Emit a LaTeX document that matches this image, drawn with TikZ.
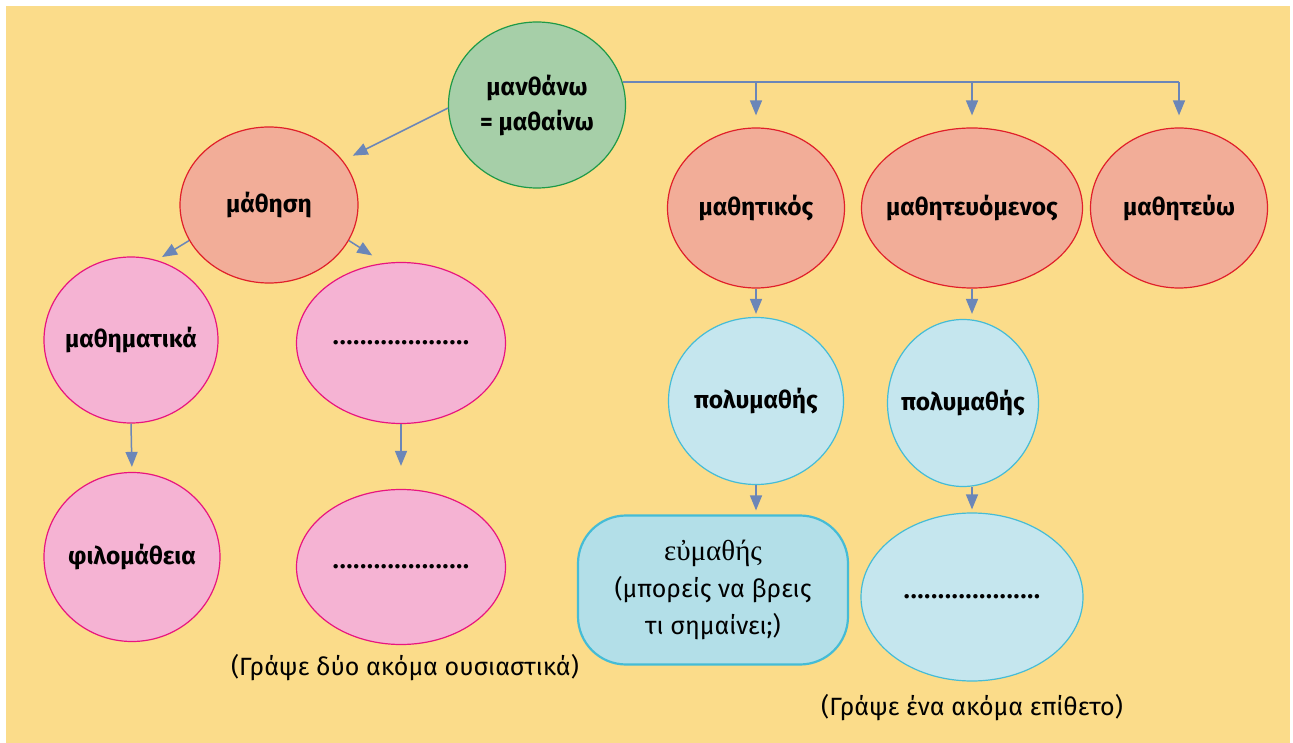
\documentclass[tikz,border=0pt]{standalone}
\usepackage{fontspec}
\setmainfont{Fira Sans}
\newfontfamily\serifgr{Liberation Serif}
\usetikzlibrary{arrows.meta,shapes.geometric}
\definecolor{bgy}{HTML}{FBDC8A}
\definecolor{grnf}{HTML}{A6CFA8}
\definecolor{grnd}{HTML}{1E9A48}
\definecolor{salf}{HTML}{F2AD98}
\definecolor{sald}{HTML}{E0202A}
\definecolor{pnkf}{HTML}{F5B3D3}
\definecolor{pnkd}{HTML}{E8157F}
\definecolor{bluf}{HTML}{C5E6EE}
\definecolor{blud}{HTML}{45BCD6}
\definecolor{boxf}{HTML}{B3DFE8}
\definecolor{arrc}{HTML}{6B86B8}
\tikzset{
  bub/.style={ellipse, draw, line width=1.2pt, inner sep=0pt},
  lbl/.style={font=\bfseries\fontsize{24.5}{35}\selectfont, text=black, inner sep=0pt},
  dots/.style={lbl, font=\bfseries\fontsize{24.5}{35}\selectfont\addfontfeature{LetterSpace=4}},
  grn/.style={bub, fill=grnf, draw=grnd},
  sal/.style={bub, fill=salf, draw=sald},
  pnk/.style={bub, fill=pnkf, draw=pnkd},
  blu/.style={bub, fill=bluf, draw=blud},
  arr/.style={draw=arrc, line width=1.5pt, -{Triangle[length=15pt,width=12pt]}},
  conn/.style={draw=arrc, line width=1.5pt},
  note/.style={font=\fontsize{25}{29}\selectfont, inner sep=0pt}
}
\begin{document}
\begin{tikzpicture}[x=1pt,y=-1pt]
\useasboundingbox (0,0) rectangle (1293,743);
\fill[bgy] (6,6) rectangle (1290,743);

\node[grn, minimum width=177pt, minimum height=166pt,
  label={[lbl,align=center]center:μανθάνω\\= μαθαίνω}] (top) at (537,105) {};
\node[sal, minimum width=178pt, minimum height=156pt,
  label={[lbl]center:μάθηση}] (mth) at (269,205) {};
\node[pnk, minimum width=174pt, minimum height=166pt,
  label={[lbl]center:μαθηματικά}] (mmt) at (131,340) {};
\node[pnk, minimum width=209pt, minimum height=161pt,
  label={[dots]center:....................}] (pd1) at (401,343) {};
\node[pnk, minimum width=176pt, minimum height=169pt,
  label={[lbl]center:φιλομάθεια}] (fil) at (132,557) {};
\node[pnk, minimum width=209pt, minimum height=155pt,
  label={[dots]center:....................}] (pd2) at (401,567) {};
\node[sal, minimum width=177pt, minimum height=160pt,
  label={[lbl]center:μαθητικός}] (mtk) at (756,208) {};
\node[sal, minimum width=221pt, minimum height=160pt,
  label={[lbl]center:μαθητευόμενος}] (mtv) at (972,208) {};
\node[sal, minimum width=177pt, minimum height=160pt,
  label={[lbl]center:μαθητεύω}] (mtw) at (1179,208) {};
\node[blu, minimum width=175pt, minimum height=167pt,
  label={[lbl]center:πολυμαθής}] (pm1) at (756,401) {};
\node[blu, minimum width=151pt, minimum height=167pt,
  label={[lbl]center:πολυμαθής}] (pm2) at (963,403) {};
\node[draw=blud, fill=boxf, line width=2.2pt, rounded corners=48pt,
  minimum width=270pt, minimum height=149pt, inner sep=0pt, align=center,
  font=\fontsize{25}{37}\selectfont] (eum) at (713,590)
  {{\serifgr\fontsize{29}{37}\selectfont εὐμαθής}\\(μπορείς να βρεις\\τι σημαίνει;)};
\node[blu, minimum width=222pt, minimum height=168pt,
  label={[dots]center:....................}] (bb) at (972,597) {};

\node[note] (n1) at (405,668) {(Γράψε δύο ακόμα ουσιαστικά)};
\node[note] (n2) at (972,708) {(Γράψε ένα ακόμα επίθετο)};

% connectors
\draw[arr, shorten >=11pt] (top.182) -- (mth.31);
\draw[arr, shorten >=6pt] (mth.204) -- (mmt.72);
\draw[arr, shorten >=14pt] (mth.336) -- (pd1.102);
\draw[arr, shorten >=5pt] (mmt.south) -- (fil.north);
\draw[arr, shorten >=23pt] (pd1.south) -- (pd2.north);

\coordinate (hub) at (top.15);
\draw[conn] (hub) -- (hub -| mtw.north);
\draw[arr, shorten >=12pt] (hub -| mtk.north) -- (mtk.north);
\draw[arr, shorten >=12pt] (hub -| mtv.north) -- (mtv.north);
\draw[arr, shorten >=12pt] (hub -| mtw.north) -- (mtw.north);

\draw[arr, shorten >=3pt] (mtk.south) -- (pm1.north);
\draw[arr, shorten >=5pt] (mtv.south) -- (mtv.south |- pm2.north);
\draw[arr, shorten >=4pt] (pm1.south) -- (pm1.south |- eum.north);
\draw[arr, shorten >=3pt] (pm2.south -| bb.north) -- (bb.north);
\end{tikzpicture}
\end{document}
